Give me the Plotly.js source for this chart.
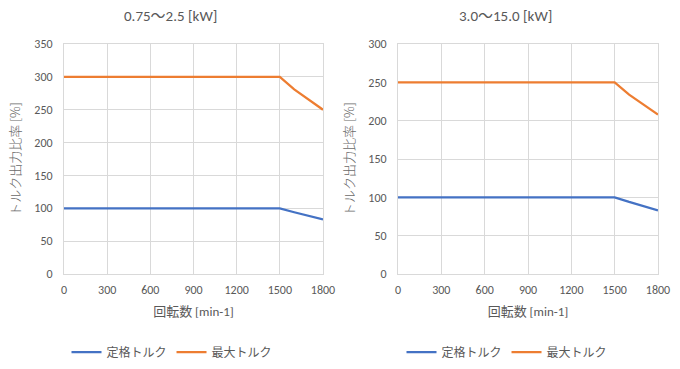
<!DOCTYPE html>
<html><head><meta charset="utf-8">
<script src="https://cdn.plot.ly/plotly-3.0.1.min.js"></script>
<style>html,body{margin:0;padding:0;background:#fff}#chart{width:680px;height:369px}</style>
</head><body><div id="chart"></div>
<script>
const speed = [0, 1500, 1600, 1700, 1800];
const ratedLeft = [100, 100, 94, 88, 83];
const maxLeft = [300, 300, 281, 265, 250];
const ratedRight = [100, 100, 94, 88, 83];
const maxRight = [250, 250, 234, 221, 208];
const titleLeft = '0.75～2.5 [kW]';
const titleRight = '3.0～15.0 [kW]';
const xTitle = '回転数 [min-1]';
const yTitle = 'トルク出力比率 [%]';
const nameRated = '定格トルク';
const nameMax = '最大トルク';
const xTicks = [0, 300, 600, 900, 1200, 1500, 1800];

const FONT = 'Calibri, Carlito, "Noto Sans CJK JP", sans-serif';
const GRAY = '#595959';
const BLUE = '#4472C4', ORANGE = '#ED7D31';

const traces = [
  {x: speed, y: ratedLeft, name: nameRated, xaxis: 'x', yaxis: 'y', legend: 'legend', line: {color: BLUE, width: 2.25}, mode: 'lines'},
  {x: speed, y: maxLeft, name: nameMax, xaxis: 'x', yaxis: 'y', legend: 'legend', line: {color: ORANGE, width: 2.25}, mode: 'lines'},
  {x: speed, y: ratedRight, name: nameRated, xaxis: 'x2', yaxis: 'y2', legend: 'legend2', line: {color: BLUE, width: 2.25}, mode: 'lines'},
  {x: speed, y: maxRight, name: nameMax, xaxis: 'x2', yaxis: 'y2', legend: 'legend2', line: {color: ORANGE, width: 2.25}, mode: 'lines'}
];

const H = 369, W = 680;
const yDom = [1 - 274 / H, 1 - 44 / H];
function xa(dom, anchor) {
  return {domain: dom, anchor: anchor, range: [0, 1800], tickvals: xTicks, ticktext: xTicks.map(String),
    showgrid: true, gridcolor: '#d9d9d9', gridwidth: 1, zeroline: false, showline: true, linecolor: '#d9d9d9', mirror: true,
    ticks: 'outside', ticklen: 5, tickcolor: 'rgba(0,0,0,0)', tickfont: {family: FONT, size: 12, color: GRAY},
    title: {text: xTitle, font: {family: FONT, size: 13, color: GRAY}, standoff: 10}};
}
function ya(dom, anchor, max) {
  return {domain: dom, anchor: anchor, range: [0, max], dtick: 50,
    showgrid: true, gridcolor: '#d9d9d9', gridwidth: 1, zeroline: false, showline: true, linecolor: '#d9d9d9', mirror: true,
    ticks: 'outside', ticklen: 8, tickcolor: 'rgba(0,0,0,0)', tickfont: {family: FONT, size: 12, color: GRAY},
    title: {text: yTitle, font: {family: '"Noto Sans CJK JP", sans-serif', size: 13, color: '#6a6a6a', weight: 300}, standoff: 10}};
}
const layout = {
  width: W, height: H, margin: {l: 0, r: 0, t: 0, b: 0},
  paper_bgcolor: '#fff', plot_bgcolor: '#fff', showlegend: true,
  font: {family: FONT, color: GRAY},
  xaxis: xa([64 / W, 323 / W], 'y'),
  yaxis: ya(yDom, 'x', 350),
  xaxis2: xa([398 / W, 658 / W], 'y2'),
  yaxis2: ya(yDom, 'x2', 300),
  legend: {orientation: 'h', x: 172 / W, xanchor: 'center', y: 1 - 352 / H, yanchor: 'middle', font: {family: FONT, size: 12, color: GRAY}, itemwidth: 30},
  legend2: {orientation: 'h', x: 507 / W, xanchor: 'center', y: 1 - 352 / H, yanchor: 'middle', font: {family: FONT, size: 12, color: GRAY}, itemwidth: 30},
  annotations: [
    {text: titleLeft, xref: 'paper', yref: 'paper', x: 170 / W, y: 1 - 16 / H, showarrow: false, xanchor: 'center', yanchor: 'middle', font: {family: FONT, size: 15, color: GRAY}},
    {text: titleRight, xref: 'paper', yref: 'paper', x: 505 / W, y: 1 - 16 / H, showarrow: false, xanchor: 'center', yanchor: 'middle', font: {family: FONT, size: 15, color: GRAY}}
  ]
};
Plotly.newPlot('chart', traces, layout, {staticPlot: true, displayModeBar: false});
</script></body></html>
